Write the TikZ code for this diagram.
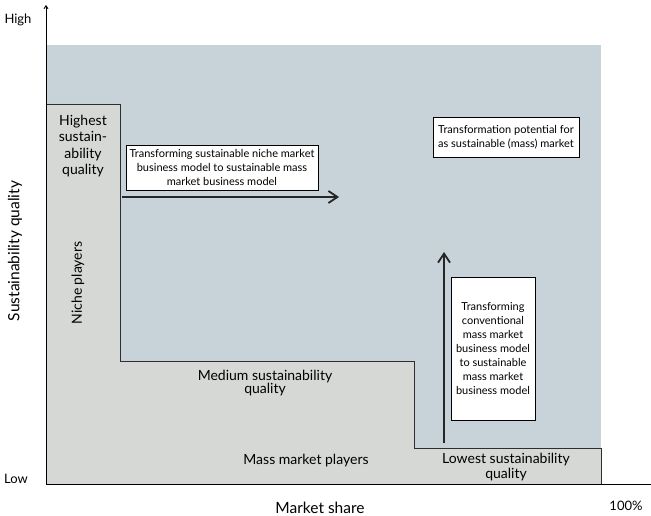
\documentclass[tikz,border=0pt]{standalone}
\usepackage{fontspec}
\setmainfont{Lato}
\usetikzlibrary{arrows.meta}
\definecolor{bluegrey}{HTML}{C7D2D9}
\definecolor{lightgrey}{HTML}{D6D8D6}
\definecolor{outline}{HTML}{2E2E2E}
\tikzset{
  lbl/.style={inner sep=0pt, align=center, text=black},
  wbox/.style={draw=black, fill=white, line width=0.8pt, inner sep=2pt, align=center, font=\fontsize{11}{14}\selectfont},
  bigarrow/.style={line width=2.6pt, draw=black!85, -{Straight Barb[length=9pt,width=12pt,line width=1.8pt]}},
}
\begin{document}
\begin{tikzpicture}[x=1pt,y=-1pt]
\useasboundingbox (0,0) rectangle (651,516);
% background
\fill[bluegrey] (46,45) rectangle (601,484);
% step shape
\fill[lightgrey] (46,104) -- (120,104) -- (120,361) -- (414,361) -- (414,448) -- (601,448) -- (601,484) -- (46,484) -- cycle;
\draw[outline, line width=0.9pt] (46,104) -- (120,104) -- (120,361) -- (414,361) -- (414,448) -- (601,448) -- (601,484);
% axes
\coordinate (origin) at (46,484);
\coordinate (ytop) at (46,5);
\coordinate (xend) at (651,484);
\draw[line width=0.9pt, -{Straight Barb[length=3pt,width=4pt]}] (origin) -- (ytop);
\draw[line width=0.9pt] (origin) -- (xend);
% axis labels
\node[lbl, font=\fontsize{13}{15}\selectfont] (high) at (18,20) {High};
\node[lbl, font=\fontsize{13}{15}\selectfont] (low) at (16,479) {Low};
\node[lbl, font=\fontsize{15.5}{18}\selectfont, rotate=90] (yl) at (15,251) {Sustainability quality};
\node[lbl, font=\fontsize{15.5}{18}\selectfont] (xl) at (320,508) {Market share};
\node[lbl, font=\fontsize{13}{15}\selectfont] (pct) at (626,506) {100\%};
% region labels
\node[lbl, font=\fontsize{14}{16.3}\selectfont] (highest) at (83,146) {Highest\\sustain-\\ability\\quality};
\node[lbl, font=\fontsize{14}{16}\selectfont, rotate=90] (niche) at (78,283) {Niche players};
\node[lbl, font=\fontsize{14}{13.5}\selectfont] (medium) at (265,383) {Medium sustainability\\quality};
\node[lbl, font=\fontsize{14}{16}\selectfont] (massp) at (306,461) {Mass market players};
\node[lbl, font=\fontsize{14}{15}\selectfont] (lowest) at (506,467) {Lowest sustainability\\quality};
% boxes
\node[wbox, minimum width=192pt, minimum height=45pt] (box1) at (222,167.5) {Transforming sustainable niche market\\business model to sustainable mass\\market business model};
\node[wbox, minimum width=146pt, minimum height=40pt] (box2) at (506,137) {Transformation potential for\\as sustainable (mass) market};
\node[wbox, minimum width=84pt, minimum height=143pt] (box3) at (493,348.5) {Transforming\\conventional\\mass market\\business model\\to sustainable\\mass market\\business model};
% arrows
\coordinate (h1) at (122,197);
\coordinate (h2) at (339,197);
\coordinate (v1) at (444,443);
\coordinate (v2) at (444,252);
\draw[bigarrow] (h1) -- (h2);
\draw[bigarrow] (v1) -- (v2);
\end{tikzpicture}
\end{document}
